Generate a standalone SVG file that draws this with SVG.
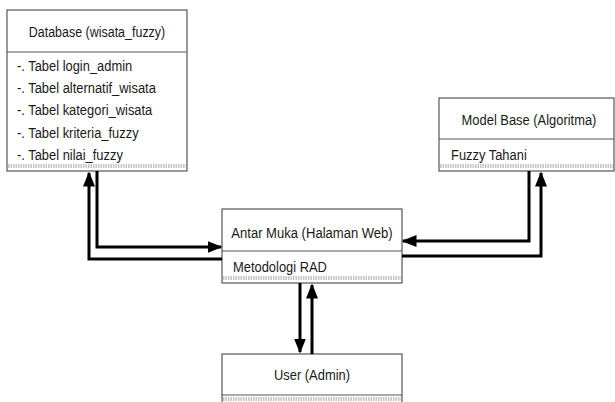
<svg xmlns="http://www.w3.org/2000/svg" width="615" height="402" viewBox="0 0 615 402">
<defs>
<marker id="ah" markerWidth="5" markerHeight="4" refX="4.5" refY="2" orient="auto" markerUnits="strokeWidth">
<path d="M0,0 L5,2 L0,4 Z" fill="#000"/>
</marker>
<style>
.box{fill:#fff;stroke:#555;stroke-width:1.2}
.div{stroke:#555;stroke-width:1.2}
.dot{stroke:#888;stroke-width:1;stroke-dasharray:1.5,1}
.t{font-family:"Liberation Sans",Arial,sans-serif;font-size:14.5px;fill:#1a1a1a}
.c{text-anchor:middle}
.con{fill:none;stroke:#000;stroke-width:3;marker-end:url(#ah)}
</style>
</defs>
<rect width="615" height="402" fill="#fff"/>
<g id="database">
<rect class="box" x="7" y="10" width="180" height="161"/>
<line class="div" x1="7" y1="52" x2="187" y2="52"/>
<line class="dot" x1="8" y1="165" x2="186" y2="165"/>
<line class="dot" x1="8" y1="167" x2="186" y2="167"/>
<text class="t c" transform="translate(97,36.5) scale(0.86,1)">Database (wisata_fuzzy)</text>
<text class="t" transform="translate(17,70.5) scale(0.89,1)">-. Tabel login_admin</text>
<text class="t" transform="translate(17,92.5) scale(0.89,1)">-. Tabel alternatif_wisata</text>
<text class="t" transform="translate(17,114.5) scale(0.89,1)">-. Tabel kategori_wisata</text>
<text class="t" transform="translate(17,137.5) scale(0.89,1)">-. Tabel kriteria_fuzzy</text>
<text class="t" transform="translate(17,159.5) scale(0.89,1)">-. Tabel nilai_fuzzy</text>
</g>
<g id="modelbase">
<rect class="box" x="439" y="98" width="175" height="73"/>
<line class="div" x1="439" y1="139" x2="614" y2="139"/>
<line class="dot" x1="440" y1="165" x2="614" y2="165"/>
<line class="dot" x1="440" y1="167" x2="614" y2="167"/>
<text class="t c" transform="translate(529,124.5) scale(0.89,1)">Model Base (Algoritma)</text>
<text class="t" transform="translate(451,159.5) scale(0.89,1)">Fuzzy Tahani</text>
</g>
<g id="antarmuka">
<rect class="box" x="222" y="209" width="180" height="74"/>
<line class="div" x1="222" y1="251" x2="402" y2="251"/>
<line class="dot" x1="223" y1="277" x2="401" y2="277"/>
<line class="dot" x1="223" y1="279" x2="401" y2="279"/>
<text class="t c" transform="translate(312,237.5) scale(0.9,1)">Antar Muka (Halaman Web)</text>
<text class="t" transform="translate(233,271.5) scale(0.89,1)">Metodologi RAD</text>
</g>
<g id="user">
<rect class="box" x="222" y="354" width="180" height="60"/>
<line class="div" x1="222" y1="395" x2="402" y2="395"/>
<line class="dot" x1="223" y1="398" x2="401" y2="398"/>
<line class="dot" x1="223" y1="400" x2="401" y2="400"/>
<text class="t c" transform="translate(312,379.5) scale(0.89,1)">User (Admin)</text>
</g>
<g id="connectors">
<polyline class="con" points="97,171 97,247 221,247"/>
<polyline class="con" points="222,259 89,259 89,173"/>
<polyline class="con" points="529,171 529,241 403,241"/>
<polyline class="con" points="402,256 541,256 541,173"/>
<polyline class="con" points="300,283 300,352"/>
<polyline class="con" points="312,354 312,285"/>
</g>
</svg>
